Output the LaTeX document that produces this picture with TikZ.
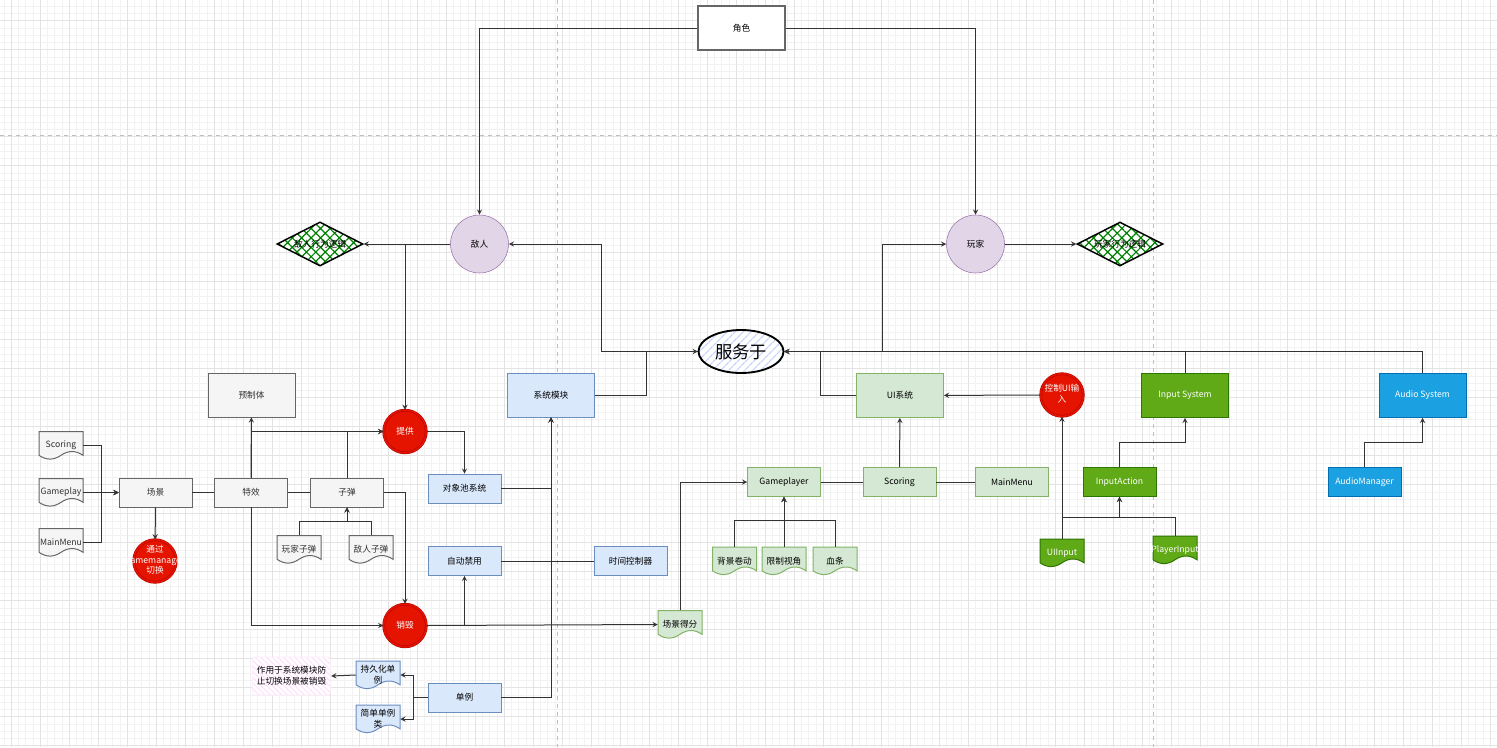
\documentclass[tikz,border=0pt]{standalone}
\usepackage{fontspec}
\setmainfont{Noto Sans CJK SC}
\usetikzlibrary{shapes.geometric, arrows, patterns.meta}
\definecolor{fillgray}{HTML}{F5F5F5}
\definecolor{linegray}{HTML}{666666}
\definecolor{textgray}{HTML}{333333}
\definecolor{bluefill}{HTML}{DAE8FC}
\definecolor{blueline}{HTML}{6C8EBF}
\definecolor{greenfill}{HTML}{D5E8D4}
\definecolor{greenline}{HTML}{82B366}
\definecolor{purplefill}{HTML}{E1D5E7}
\definecolor{purpleline}{HTML}{9673A6}
\definecolor{redfill}{HTML}{E51400}
\definecolor{redline}{HTML}{B20000}
\definecolor{leaffill}{HTML}{60A917}
\definecolor{leafline}{HTML}{2D7600}
\definecolor{skyfill}{HTML}{1BA1E2}
\definecolor{skyline}{HTML}{006EAF}
\tikzstyle{grayblock} = [rectangle, minimum width=54.75pt, minimum height=21.75pt, text centered, draw=linegray, fill=fillgray, text=textgray]
\tikzstyle{blueblock} = [rectangle, minimum width=54.75pt, minimum height=21.75pt, text centered, draw=blueline, fill=bluefill]
\tikzstyle{greenblock} = [rectangle, minimum width=54.75pt, minimum height=21.75pt, text centered, draw=greenline, fill=greenfill]
\tikzstyle{leafblock} = [rectangle, minimum width=54.75pt, minimum height=21.75pt, text centered, draw=leafline, fill=leaffill, text=white]
\tikzstyle{skyblock} = [rectangle, minimum width=54.75pt, minimum height=21.75pt, text centered, draw=skyline, fill=skyfill, text=white]
\tikzstyle{large} = [minimum width=65.25pt, minimum height=33pt]
\tikzstyle{actor} = [circle, minimum size=43.5pt, inner sep=0pt, draw=purpleline, fill=purplefill]
\tikzstyle{action} = [circle, minimum size=32pt, inner sep=0pt, draw=redline, double=redfill, double distance=1.2pt, fill=redfill, text=white]
\tikzstyle{logic} = [diamond, aspect=1.95, minimum width=64.5pt, minimum height=33pt, inner sep=0pt, draw=black, line width=1.1pt, preaction={fill=white}, pattern={Hatch[angle=45,distance=5pt,line width=0.9pt]}, pattern color=green!50!black]
\tikzstyle{docgray} = [draw=linegray, fill=fillgray, text=textgray]
\tikzstyle{docgreen} = [draw=greenline, fill=greenfill]
\tikzstyle{docblue} = [draw=blueline, fill=bluefill]
\tikzstyle{docleaf} = [draw=leafline, fill=leaffill, text=white]
\tikzstyle{line} = [draw=black!80, line width=0.75pt]
\tikzstyle{arrow} = [line, ->, >=stealth]
% document shape: wavy bottom, then the named text node on top
\newcommand{\docnode}[4]{%
  \draw[#3, line width=0.75pt, shift={(#2)}] (-22,-14) -- (22,-14) -- (22,9.8) .. controls (14.67,4.76) and (7.33,4.76) .. (0,9.8) .. controls (-7.33,14.84) and (-14.67,14.84) .. (-22,9.8) -- cycle;
  \node[#3, draw=none, fill=none, minimum width=33pt, minimum height=21pt, inner sep=0pt, align=center] (#1) at (#2) {#4};}

\begin{document}
\begin{tikzpicture}[x=0.75pt, y=-0.75pt, font=\fontsize{6.5}{8}\selectfont]
\useasboundingbox (0,0) rectangle (1497,747);
\fill[white] (0,0) rectangle (1497,747);
% background grid and page breaks
\foreach \gx in {4,11.25,...,1497} \draw[black!5, line width=0.4pt] (\gx,0) -- (\gx,747);
\foreach \gy in {6.2,13.45,...,747} \draw[black!5, line width=0.4pt] (0,\gy) -- (1497,\gy);
\foreach \gx in {11.3,40.3,...,1497} \draw[black!11, line width=0.5pt] (\gx,0) -- (\gx,747);
\foreach \gy in {20.7,49.7,...,747} \draw[black!11, line width=0.5pt] (0,\gy) -- (1497,\gy);
\draw[black!25, dashed, line width=0.5pt] (557.5,0) -- (557.5,747) (1153.5,0) -- (1153.5,747) (0,135.5) -- (1497,135.5);

% characters
\node (role) [rectangle, large, draw=linegray, line width=1.1pt, fill=white] at (741.5,28) {角色};
\node (enemy) [actor] at (479.5,244) {敌人};
\node (player) [actor] at (975.5,244) {玩家};
\node (elogic) [logic] at (320,244) {敌人行为逻辑};
\node (plogic) [logic] at (1120,244) {玩家行为逻辑};
\node (serve) [ellipse, minimum width=63.75pt, minimum height=32.25pt, inner sep=0pt, draw=black, line width=1.4pt, preaction={fill=white}, pattern={Lines[angle=45,distance=4pt,line width=1pt]}, pattern color=bluefill!90!blue, font=\fontsize{13}{15}\selectfont] at (741,351.5) {服务于};

% scene side
\node (prefab) [grayblock, large] at (251.5,395) {预制体};
\docnode{dscoring}{61,445.5}{docgray}{Scoring}
\docnode{dgameplay}{61,492.5}{docgray}{Gameplay}
\docnode{dmainmenu}{61,542.5}{docgray}{MainMenu}
\node (scene) [grayblock] at (155.5,492.5) {场景};
\node (effect) [grayblock] at (251,492.5) {特效};
\node (bullet) [grayblock] at (347,492.5) {子弹};
\node (switch) [action] at (155,561) {\makebox[0pt]{\begin{tabular}{@{}c@{}}通过\\gamemanager\\切换\end{tabular}}};
\docnode{pbullet}{299,549.5}{docgray}{玩家子弹}
\docnode{ebullet}{371,549.5}{docgray}{敌人子弹}
\node (provide) [action] at (405,431.5) {提供};
\node (destroy) [action] at (405,625.5) {销毁};

% system modules
\node (sysmod) [blueblock, large] at (551,395) {系统模块};
\node (pool) [blueblock] at (464.5,488.5) {对象池系统};
\node (autodis) [blueblock] at (464.5,561) {自动禁用};
\node (timer) [blueblock] at (630.5,561) {时间控制器};
\node (single) [blueblock] at (464.5,697.5) {单例};
\docnode{persist}{378,675}{docblue}{持久化单\\例}
\docnode{simple}{378,719}{docblue}{简单单例\\类}
\node (note) [rectangle, rounded corners=2pt, minimum width=53.25pt, minimum height=28.5pt, align=center, draw=magenta!8, preaction={fill=white}, pattern={Lines[angle=-45,distance=3pt,line width=0.8pt]}, pattern color=magenta!12] at (291.5,676) {作用于系统模块防\\止切换场景被销毁};

% UI side
\node (uisys) [greenblock, large] at (900,395.5) {UI系统};
\docnode{sscore}{680,624.5}{docgreen}{场景得分}
\node (gplayer) [greenblock] at (784,482) {Gameplayer};
\node (scoring) [greenblock] at (899.5,482) {Scoring};
\node (mainmenu) [greenblock] at (1012,482) {MainMenu};
\docnode{bgscroll}{734.5,561}{docgreen}{背景卷动}
\docnode{viewlim}{784,561}{docgreen}{限制视角}
\docnode{hpbar}{835,561}{docgreen}{血条}
\node (ctrlui) [action] at (1062,395) {\makebox[0pt]{\begin{tabular}{@{}c@{}}控制UI输\\入\end{tabular}}};

% input and audio
\node (inputsys) [leafblock, large] at (1185,395.5) {Input System};
\node (inaction) [leafblock] at (1119.5,482) {InputAction};
\docnode{uiinput}{1062,553}{docleaf}{UIInput}
\docnode{pinput}{1175,550}{docleaf}{PlayerInput}
\node (audiosys) [skyblock, large] at (1422.5,395.5) {Audio System};
\node (audiomgr) [skyblock] at (1364.5,482) {AudioManager};

% top connectors
\draw [arrow] (role.west) -| (enemy.north);
\draw [arrow] (role.east) -| (player.north);
\draw [arrow] (enemy.west) -- (elogic.east);
\draw [arrow] (player.east) -- (plogic.west);
\draw [arrow] (enemy.west) -| (provide.north);
\draw [arrow] (serve.west) -- ++(-96,0) |- (enemy.east);
\draw [arrow] (serve.east) -- ++(98,0) |- (player.west);
\draw [arrow] (sysmod.east) -- ++(52,0) |- (serve.west);
\draw [arrow] (uisys.west) -- ++(-36,0) |- (serve.east);
\draw [arrow] (inputsys.north) |- (serve.east);
\draw [arrow] (audiosys.north) |- (serve.east);

% scene connectors
\draw [arrow] (dscoring.east) -- ++(18,0) |- (scene.west);
\draw [arrow] (dgameplay.east) -- (scene.west);
\draw [arrow] (dmainmenu.east) -- ++(18,0) |- (scene.west);
\draw [line] (scene) -- (effect) -- (bullet);
\draw [arrow] (scene) -- (switch);
\draw [arrow] (effect) -- (prefab);
\draw [arrow] (effect.north) |- (provide.west);
\draw [arrow] (bullet.north) |- (provide.west);
\draw [arrow] (effect.south) |- (destroy.west);
\draw [arrow] (bullet.east) -| (destroy.north);
\draw [arrow] (pbullet.north) -- ++(0,-14) -| (bullet.south);
\draw [arrow] (ebullet.north) -- ++(0,-14) -| (bullet.south);
\draw [arrow] (provide.east) -| (pool.north);
\draw [arrow] (destroy.east) -| (autodis.south);
\draw [arrow] (destroy.east) -- (sscore.west);

% system connectors
\draw [line] (autodis) -- (timer);
\draw [arrow] (timer.west) -| (sysmod.south);
\draw [arrow] (pool.east) -| (sysmod.south);
\draw [arrow] (single.east) -| (sysmod.south);
\draw [arrow] (single.west) -- ++(-14,0) |- (persist.east);
\draw [arrow] (single.west) -- ++(-14,0) |- (simple.east);
\draw [arrow] (persist.west) -- (note.east);

% UI connectors
\draw [arrow] (sscore.north) |- (gplayer.west);
\draw [line] (gplayer) -- (scoring) -- (mainmenu);
\draw [arrow] (scoring) -- (uisys);
\draw [arrow] (bgscroll.north) -- ++(0,-26) -| (gplayer.south);
\draw [arrow] (hpbar.north) -- ++(0,-26) -| (gplayer.south);
\draw [arrow] (viewlim) -- (gplayer);
\draw [arrow] (ctrlui) -- (uisys);
\draw [arrow] (uiinput) -- (ctrlui);
\draw [arrow] (uiinput.north) -- ++(0,-21) -| (inaction.south);
\draw [arrow] (pinput.north) -- ++(0,-18) -| (inaction.south);
\draw [arrow] (inaction.north) -- ++(0,-25) -| (inputsys.south);
\draw [arrow] (audiomgr.north) -- ++(0,-25) -| (audiosys.south);
\end{tikzpicture}
\end{document}
